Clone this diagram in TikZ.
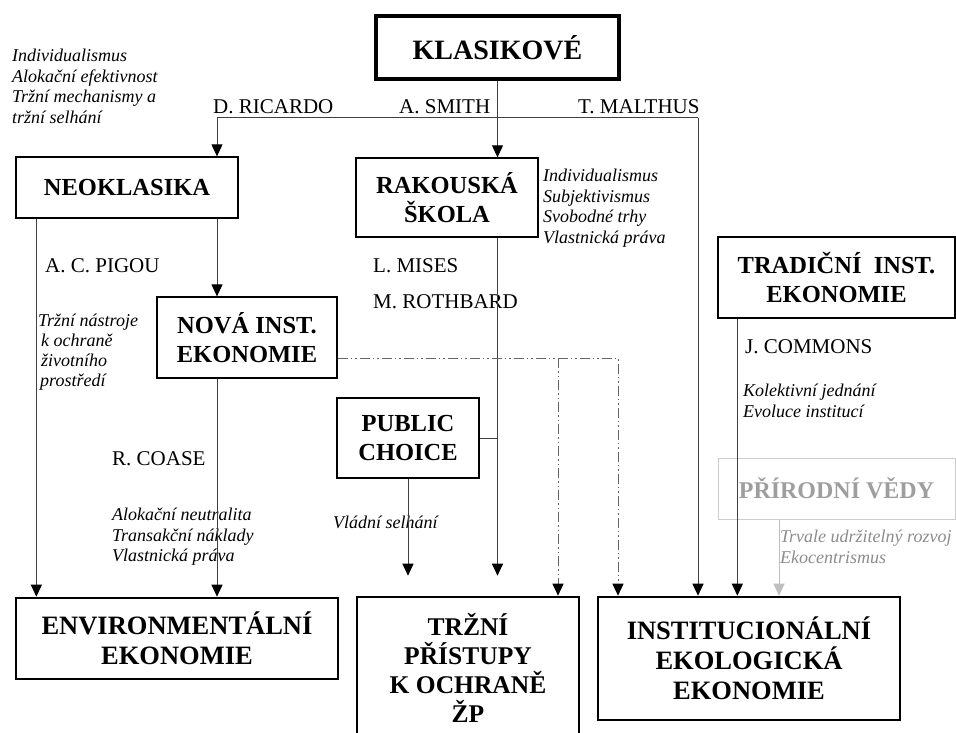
\documentclass[tikz,border=0pt]{standalone}
\usepackage{fontspec}
\setmainfont{Liberation Serif}
\usetikzlibrary{arrows.meta}
\newcommand\ttlfont{\fontsize{24.5}{28.5}\selectfont\bfseries}
\newcommand\bigttlfont{\fontsize{26.5}{30}\selectfont\bfseries}
\newcommand\trzfont{\fontsize{25.5}{29}\selectfont\bfseries}
\newcommand\klfont{\fontsize{28}{32}\selectfont\bfseries}
\newcommand\lblfont{\fontsize{21}{24}\selectfont}
\newcommand\notefont{\fontsize{18}{20.5}\selectfont\itshape}
\begin{document}
\begin{tikzpicture}[x=1pt,y=-1pt,
  box/.style={draw=black, line width=1.3pt, align=center, inner sep=0pt, font=\ttlfont},
  thickbox/.style={box, line width=2.6pt, font=\bigttlfont},
  lbl/.style={anchor=base west, inner sep=0pt, font=\lblfont},
  note/.style={anchor=north west, inner sep=0pt, align=left, font=\notefont},
  conn/.style={draw=black!75, line width=1pt},
  arr/.style={-{Triangle[width=11pt,length=12pt,color=black]}},
  grayarr/.style={-{Triangle[width=11pt,length=12pt,color=black!25]}},
  dd/.style={draw=black!60, line width=1pt, dash pattern=on 10pt off 3pt on 1.5pt off 3pt on 1.5pt off 3pt}]
\useasboundingbox (0,0) rectangle (956,733);

% boxes
\node[box, line width=3.5pt, font=\klfont, minimum width=243pt, minimum height=63pt] (kl) at (497.5,47.5) {KLASIKOVÉ};
\node[box, minimum width=222pt, minimum height=61pt] (neo) at (127,187.5) {NEOKLASIKA};
\node[box, minimum width=182pt, minimum height=79pt] (rak) at (447,197.5) {RAKOUSKÁ\\ŠKOLA};
\node[box, minimum width=180pt, minimum height=81pt] (nova) at (247,337.5) {NOVÁ INST.\\EKONOMIE};
\node[box, minimum width=142pt, minimum height=80pt] (pc) at (408,438) {PUBLIC\\CHOICE};
\node[box, minimum width=237pt, minimum height=81pt] (trad) at (836.5,277.5) {TRADIČNÍ\enspace INST.\\EKONOMIE};
\node[box, draw=black!20, line width=1pt, text=black!38, font=\fontsize{24}{28}\selectfont\bfseries, minimum width=237pt, minimum height=61pt] (prir) at (836.5,488.5) {PŘÍRODNÍ VĚDY};
\node[thickbox, minimum width=322pt, minimum height=81pt] (env) at (177,638.5) {ENVIRONMENTÁLNÍ\\EKONOMIE};
\node[thickbox, font=\trzfont, minimum width=222pt, minimum height=142pt] (trz) at (468,668) {TRŽNÍ\\PŘÍSTUPY\\K OCHRANĚ\\ŽP};
\node[thickbox, minimum width=302pt, minimum height=123pt] (inst) at (749,658.5) {INSTITUCIONÁLNÍ\\EKOLOGICKÁ\\EKONOMIE};

% labels
\node[lbl] (ric) at (213,114) {D. RICARDO};
\node[lbl] (smith) at (399,114) {A. SMITH};
\node[lbl] (mal) at (578,114) {T. MALTHUS};
\node[lbl] (pig) at (45,272) {A. C. PIGOU};
\node[lbl] (mis) at (373,272) {L. MISES};
\node[lbl] (roth) at (373,308) {M. ROTHBARD};
\node[lbl] (coase) at (112,465) {R. COASE};
\node[lbl] (comm) at (745,353) {J. COMMONS};

% notes
\node[note] (n1) at (12,49) {Individualismus\\Alokační efektivnost\\Tržní mechanismy a\\tržní selhání};
\node[note] (n2) at (543,169) {Individualismus\\Subjektivismus\\Svobodné trhy\\Vlastnická práva};
\node[note, font=\fontsize{18}{20}\selectfont\itshape] (n3) at (38,314) {Tržní nástroje\\\hspace*{3pt}k ochraně\\\hspace*{3pt}životního\\\hspace*{2pt}prostředí};
\node[note] (n4) at (112,508) {Alokační neutralita\\Transakční náklady\\Vlastnická práva};
\node[lbl, font=\notefont] (n5) at (333,528) {Vládní selhání};
\node[note] (n6) at (743,384) {Kolektivní jednání\\Evoluce institucí};
\node[note, text=black!45] (n7) at (780,530) {Trvale udržitelný rozvoj\\Ekocentrismus};

% junctions
\coordinate (jR) at (217,118);
\coordinate (jS) at (497.5,118);
\coordinate (jM) at (698,118);
\coordinate (nl) at ([xshift=21pt]neo.south west);
\coordinate (tc) at ([xshift=20pt]trad.south west);
\coordinate (pv) at ([xshift=61.5pt]prir.south west);
\coordinate (ne) at ([yshift=-20.5pt]nova.east);
\coordinate (tzs) at ([yshift=20pt]trz.north);
\coordinate (d1) at (558,358);
\coordinate (d2) at (618,358);

% connectors
\draw[conn] (kl.south) -- (jS);
\draw[conn] (jR) -- (jM);
\draw[conn,arr] (jR) -- (jR |- neo.north);
\draw[conn,arr] (jS) -- (jS |- rak.north);
\draw[conn,arr] (jM) -- (jM |- inst.north);
\draw[conn,arr] (nl) -- (nl |- env.north);
\draw[conn,arr] (jR |- neo.south) -- (jR |- nova.north);
\draw[conn,arr] (jR |- nova.south) -- (jR |- env.north);
\draw[conn,arr] (jS |- rak.south) -- (jS |- tzs);
\draw[conn] (pc.east) -- (pc.east -| jS);
\draw[conn,arr] (pc.south) -- (pc.south |- tzs);
\draw[dd,arr] (ne) -- (d2) -- (d2 |- inst.north);
\draw[dd,arr] (d1) -- (d1 |- trz.north);
\draw[conn,arr] (tc) -- (tc |- inst.north);
\draw[conn,draw=black!25,grayarr] (pv) -- (pv |- inst.north);
\end{tikzpicture}
\end{document}
